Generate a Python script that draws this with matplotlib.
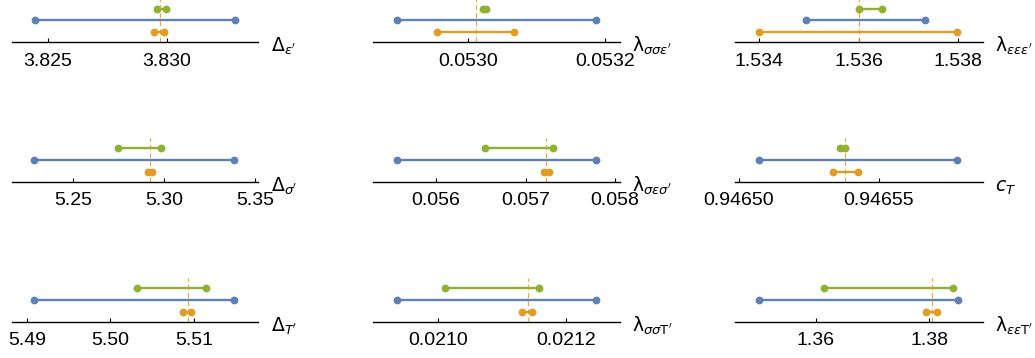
import matplotlib.pyplot as plt
from matplotlib.transforms import Bbox

plt.rcParams['font.family'] = ['Liberation Sans', 'DejaVu Sans']
plt.rcParams['mathtext.fontset'] = 'dejavusans'

# panel labels, row by row
labels = [r"$\Delta_{\epsilon'}$", r"$\mathrm{\lambda}_{\sigma\sigma\epsilon'}$", r"$\mathrm{\lambda}_{\epsilon\epsilon\epsilon'}$",
          r"$\Delta_{\sigma'}$", r"$\mathrm{\lambda}_{\sigma\epsilon\sigma'}$", r"$c_T$",
          r"$\Delta_{T'}$", r"$\mathrm{\lambda}_{\sigma\sigma\mathrm{T}'}$", r"$\mathrm{\lambda}_{\epsilon\epsilon\mathrm{T}'}$"]

# intervals (low, high) for each panel
blue = [(3.82444, 3.83286), (0.0528952, 0.0531864), (1.53494, 1.53734),
        (5.22857, 5.33846), (0.055561, 0.057790), (0.9465072, 0.9465780),
        (5.49088, 5.51483), (0.0209346, 0.0212476), (1.34994, 1.38501)]
green = [(3.82958, 3.82996), (0.0530215, 0.0530255), (1.53601, 1.53647),
         (5.27440, 5.29819), (0.056547, 0.057302), (0.9465361, 0.9465379),
         (5.50314, 5.51144), (0.0210105, 0.0211587), (1.36141, 1.38424)]
orange = [(3.82946, 3.82989), (0.0529546, 0.0530664), (1.53400, 1.53798),
          (5.29120, 5.29340), (0.057209, 0.057261), (0.9465337, 0.9465427),
          (5.50874, 5.50966), (0.0211309, 0.0211473), (1.37936, 1.38141)]
ref = [3.82972, 0.0530108, 1.53600, 5.2923, 0.057231, 0.946538, 5.50925, 0.0211402, 1.38042]

xlims = [(3.82347, 3.83386), (0.0528606, 0.0532219), (1.53352, 1.53849),
         (5.21615, 5.35165), (0.055299, 0.058056), (0.9464986, 0.9465872),
         (5.48817, 5.51770), (0.0208979, 0.0212853), (1.34570, 1.38943)]
ticks = [[3.825, 3.830], [0.0530, 0.0532], [1.534, 1.536, 1.538],
         [5.25, 5.30, 5.35], [0.056, 0.057, 0.058], [0.94650, 0.94655],
         [5.49, 5.50, 5.51], [0.0210, 0.0212], [1.36, 1.38]]
tick_labels = [["3.825", "3.830"], ["0.0530", "0.0532"], ["1.534", "1.536", "1.538"],
               ["5.25", "5.30", "5.35"], ["0.056", "0.057", "0.058"], ["0.94650", "0.94655"],
               ["5.49", "5.50", "5.51"], ["0.0210", "0.0212"], ["1.36", "1.38"]]

c_blue, c_green, c_orange = '#5E81B5', '#8FB131', '#E19C24'

W, H = 1035, 358
fig = plt.figure(figsize=(W / 100, H / 100), dpi=100)

col_x = [(11.7, 258.3), (373.3, 620.0), (735.0, 982.7)]
row_axis = [42.3, 181.7, 322.0]
panel_h = 43.7

for i in range(9):
    r, c = divmod(i, 3)
    x0, x1 = col_x[c]
    ybot = H - row_axis[r]
    ax = fig.add_axes([x0 / W, ybot / H, (x1 - x0) / W, panel_h / H])

    for (lo, hi), y, col in [(orange[i], 1, c_orange), (blue[i], 2, c_blue), (green[i], 3, c_green)]:
        ax.plot([lo, hi], [y, y], color=col, lw=1.7, marker='o', ms=4.6, solid_capstyle='butt')
    ax.axvline(ref[i], color=c_orange, lw=0.9, ls=(0, (4, 2.5)), alpha=0.85)

    ax.set_xlim(*xlims[i])
    ax.set_ylim(0.15, 3.85)
    ax.set_yticks([])
    for s in ['top', 'left', 'right']:
        ax.spines[s].set_visible(False)
    ax.spines['bottom'].set_linewidth(1)
    ax.set_xticks(ticks[i], tick_labels[i])
    ax.tick_params(axis='x', direction='in', length=3, width=0.8, pad=7.5, labelsize=14)
    ax.set_facecolor('none')

    ax.annotate(labels[i], xy=(1, 0), xycoords='axes fraction', xytext=(9, -7),
                textcoords='offset points', ha='left', va='baseline', fontsize=13.5)

    if i == 5:
        for t in ax.get_xticklabels():
            t.set_clip_box(Bbox([[702, 0], [W, H]]))
            t.set_clip_on(True)

fig.savefig('out.png', dpi=100)
